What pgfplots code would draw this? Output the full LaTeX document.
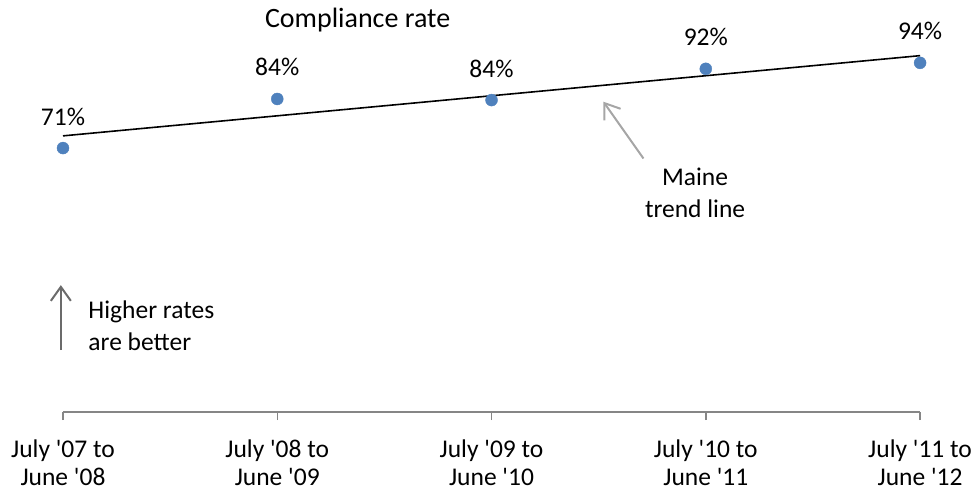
\documentclass[border=0pt]{standalone}
\usepackage{pgfplots}
\usepackage{pgfplotstable}
\pgfplotsset{compat=1.18}
\usetikzlibrary{arrows.meta}
\usepackage{fontspec}
\setmainfont{Carlito}

\definecolor{markblue}{HTML}{4F81BD}
\definecolor{axisgray}{HTML}{868686}
\definecolor{lightarrow}{HTML}{A6A6A6}
\definecolor{darkarrow}{HTML}{6B6B6B}

\newcommand{\q}{\textquotesingle}

\pgfplotstableread{
x  y     lbl
1  71.0  71\%
2  84.2  84\%
3  83.9  84\%
4  92.3  92\%
5  93.9  94\%
}\rates

\begin{document}
\begin{tikzpicture}[font=\fontsize{25.5bp}{28bp}\selectfont]
\begin{axis}[
    scale only axis,
    width=857bp, height=372bp,
    xmin=1, xmax=5, ymin=0, ymax=100,
    clip=false,
    axis x line=bottom,
    axis y line=none,
    x axis line style={-, axisgray, line width=1.5bp},
    xtick={1,2,3,4,5},
    xticklabels={July \q07 to\\June \q08, July \q08 to\\June \q09, July \q09 to\\June \q10, July \q10 to\\June \q11, July \q11 to\\June \q12},
    xtick align=outside,
    major tick length=8bp,
    xtick style={axisgray, line width=1.5bp},
    xticklabel style={align=center, font=\fontsize{25.5bp}{28bp}\selectfont, yshift=-16bp},
    /pgf/number format/assume math mode=true,
]
% keeps the page the size of the reference
\path (axis cs:0.706,110.8) rectangle (axis cs:5.275,-22.3);
% trend line
\addplot[black, line width=1.6bp, no marks]
    table[x=x, y={create col/linear regression={y=y}}] {\rates};
% data points
\addplot[only marks, mark=*, mark size=6bp, markblue,
    point meta=explicit symbolic,
    nodes near coords,
    every node near coord/.append style={anchor=base, yshift=23bp, black,
        font=\fontsize{25.5bp}{28bp}\selectfont}]
    table[x=x, y=y, meta=lbl] {\rates};

\node[anchor=base, font=\fontsize{28bp}{32bp}\selectfont] at (axis cs:2.375,103.5) {Compliance rate};

\draw[lightarrow, line width=2bp, -{Straight Barb[length=14bp,width=20bp]}]
    (axis cs:3.709,68.2) -- (axis cs:3.522,83.46);
\node[anchor=base] at (axis cs:3.950,61.05) {Maine};
\node[anchor=base] at (axis cs:3.950,52.45) {trend line};

\draw[darkarrow, line width=2bp, -{Straight Barb[length=14bp,width=20bp]}]
    (axis cs:0.99,16.68) -- (axis cs:0.99,34.16);
\node[anchor=base west, inner xsep=0pt] at (axis cs:1.118,25.28) {Higher rates};
\node[anchor=base west, inner xsep=0pt] at (axis cs:1.118,16.68) {are better};
\end{axis}
\end{tikzpicture}
\end{document}
